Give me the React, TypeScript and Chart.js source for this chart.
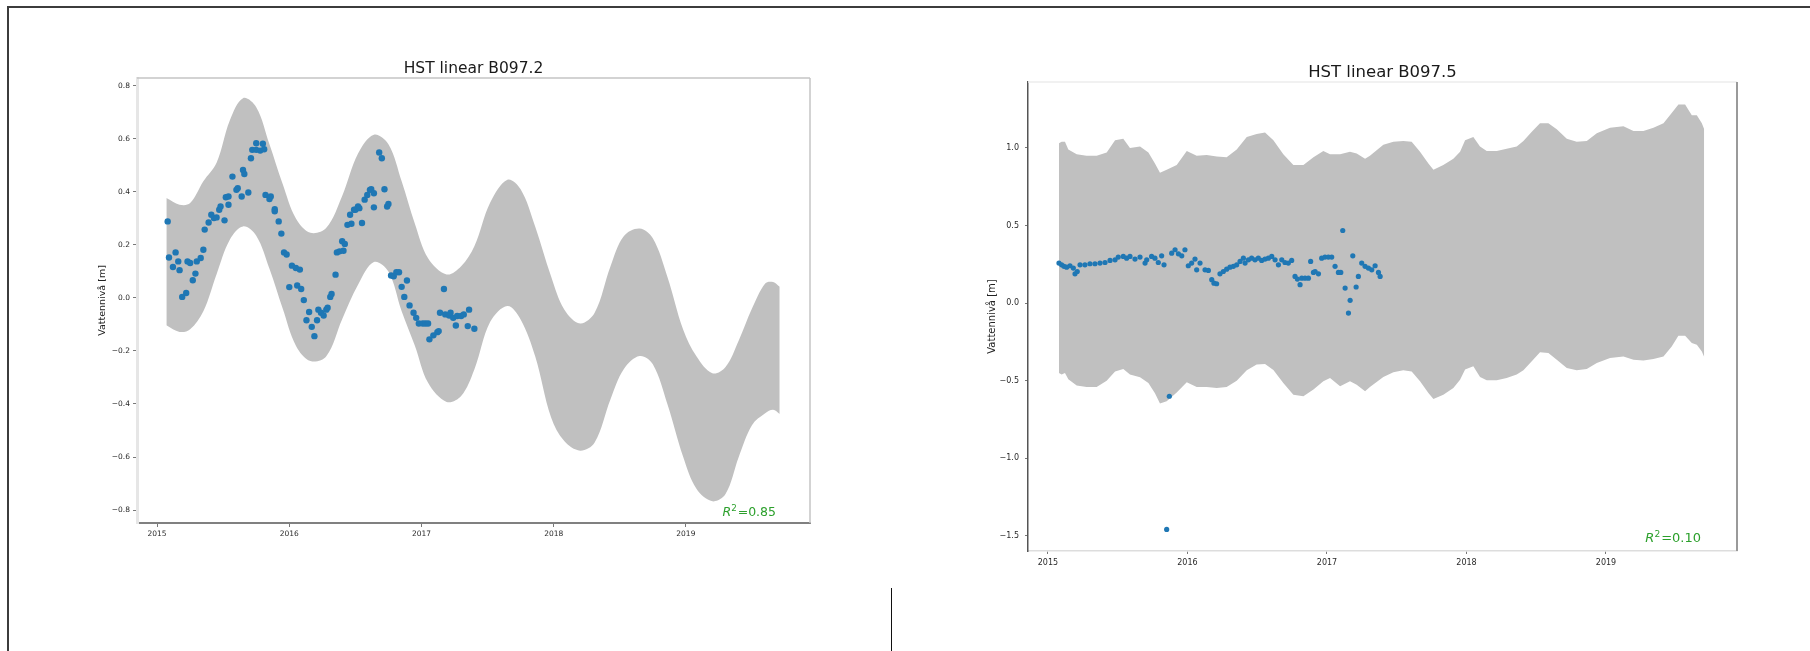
import React, { useEffect, useRef } from 'react';
import { Chart, registerables } from 'chart.js';

Chart.register(...registerables);

// ---------- shared ----------
const yearTicks = [2015, 2016, 2017, 2018, 2019];
const yLabel = 'Vattennivå [m]';

// ---------- left panel: HST linear B097.2 ----------
const leftTitle = 'HST linear B097.2';
const leftR2 = '0.85';
const leftYTicks = [-0.8, -0.6, -0.4, -0.2, 0, 0.2, 0.4, 0.6, 0.8];
const leftXRange = [2014.848, 2019.939];
const leftYRange = [-0.849, 0.83];

const leftBandYears = [
  2015.07, 2015.17, 2015.25, 2015.35, 2015.45, 2015.55, 2015.65, 2015.75, 2015.85, 2015.95,
  2016.05, 2016.16, 2016.28, 2016.40, 2016.52, 2016.64, 2016.75, 2016.85, 2016.95, 2017.05,
  2017.19, 2017.30, 2017.40, 2017.52, 2017.65, 2017.75, 2017.86, 2017.98, 2018.08, 2018.20,
  2018.31, 2018.43, 2018.53, 2018.65, 2018.75, 2018.86, 2018.98, 2019.08, 2019.20, 2019.30,
  2019.40, 2019.50, 2019.60, 2019.66, 2019.71,
];
const leftUpper = [
  0.377, 0.352, 0.358, 0.44, 0.51, 0.67, 0.754, 0.72, 0.58, 0.43,
  0.30, 0.246, 0.265, 0.385, 0.545, 0.616, 0.58, 0.44, 0.28, 0.15,
  0.089, 0.12, 0.195, 0.36, 0.446, 0.41, 0.27, 0.082, -0.043, -0.096,
  -0.056, 0.12, 0.233, 0.262, 0.225, 0.08, -0.12, -0.22, -0.284, -0.26,
  -0.16, -0.04, 0.055, 0.06, 0.042,
];
const leftLower = [
  -0.103, -0.128, -0.118, -0.05, 0.09, 0.22, 0.27, 0.235, 0.11, -0.04,
  -0.18, -0.238, -0.22, -0.08, 0.05, 0.136, 0.10, -0.05, -0.18, -0.32,
  -0.392, -0.37, -0.27, -0.09, -0.03, -0.081, -0.22, -0.45, -0.54, -0.576,
  -0.545, -0.382, -0.269, -0.219, -0.25, -0.40, -0.60, -0.72, -0.767, -0.74,
  -0.60, -0.48, -0.435, -0.422, -0.438,
];
const leftObsYears = [
  2015.08, 2015.09, 2015.12, 2015.14, 2015.16, 2015.17, 2015.19, 2015.22, 2015.23, 2015.25,
  2015.27, 2015.29, 2015.30, 2015.33, 2015.35, 2015.36, 2015.39, 2015.41, 2015.43, 2015.45,
  2015.47, 2015.48, 2015.51, 2015.52, 2015.54, 2015.54, 2015.57, 2015.60, 2015.61, 2015.64,
  2015.65, 2015.66, 2015.69, 2015.71, 2015.72, 2015.75, 2015.75, 2015.78, 2015.80, 2015.81,
  2015.82, 2015.85, 2015.86, 2015.89, 2015.89, 2015.92, 2015.94, 2015.96, 2015.98, 2016.00,
  2016.02, 2016.05, 2016.06, 2016.08, 2016.09, 2016.11, 2016.13, 2016.15, 2016.17, 2016.19,
  2016.21, 2016.22, 2016.24, 2016.26, 2016.28, 2016.29, 2016.31, 2016.32, 2016.35, 2016.36,
  2016.38, 2016.40, 2016.41, 2016.42, 2016.44, 2016.46, 2016.47, 2016.49, 2016.50, 2016.52,
  2016.53, 2016.55, 2016.57, 2016.59, 2016.61, 2016.62, 2016.64, 2016.64, 2016.68, 2016.70,
  2016.72, 2016.74, 2016.75, 2016.77, 2016.79, 2016.81, 2016.83, 2016.85, 2016.87, 2016.89,
  2016.91, 2016.94, 2016.96, 2016.98, 2017.01, 2017.03, 2017.05, 2017.06, 2017.09, 2017.12,
  2017.13, 2017.14, 2017.17, 2017.18, 2017.21, 2017.22, 2017.24, 2017.26, 2017.27, 2017.30,
  2017.32, 2017.35, 2017.36, 2017.40,
];
const leftObsLevels = [
  0.289, 0.153, 0.117, 0.172, 0.138, 0.105, 0.004, 0.019, 0.138, 0.132,
  0.067, 0.092, 0.138, 0.151, 0.182, 0.258, 0.285, 0.314, 0.302, 0.304,
  0.333, 0.345, 0.293, 0.38, 0.383, 0.352, 0.458, 0.408, 0.414, 0.383,
  0.483, 0.468, 0.398, 0.527, 0.559, 0.584, 0.559, 0.556, 0.582, 0.561,
  0.389, 0.373, 0.383, 0.335, 0.327, 0.289, 0.243, 0.172, 0.164, 0.041,
  0.122, 0.113, 0.047, 0.107, 0.034, -0.008, -0.084, -0.053, -0.109, -0.144,
  -0.084, -0.044, -0.056, -0.066, -0.044, -0.037, 0.004, 0.015, 0.088, 0.172,
  0.176, 0.214, 0.178, 0.204, 0.276, 0.314, 0.28, 0.333, 0.333, 0.345,
  0.339, 0.283, 0.371, 0.389, 0.408, 0.41, 0.395, 0.342, 0.549, 0.527,
  0.41, 0.345, 0.355, 0.085, 0.082, 0.097, 0.097, 0.042, 0.004, 0.066,
  -0.028, -0.056, -0.075, -0.096, -0.096, -0.096, -0.096, -0.156, -0.141, -0.129,
  -0.125, -0.056, 0.034, -0.062, -0.066, -0.056, -0.075, -0.104, -0.068, -0.068,
  -0.062, -0.106, -0.044, -0.116,
];

// ---------- right panel: HST linear B097.5 ----------
const rightTitle = 'HST linear B097.5';
const rightR2 = '0.10';
const rightYTicks = [-1.5, -1.0, -0.5, 0, 0.5, 1.0];
const rightXRange = [2014.857, 2019.939];
const rightYRange = [-1.597, 1.425];

const rightBandYears = [
  2015.079, 2015.098, 2015.122, 2015.146, 2015.206, 2015.277, 2015.349, 2015.421, 2015.481, 2015.540,
  2015.588, 2015.660, 2015.720, 2015.767, 2015.803, 2015.851, 2015.923, 2015.995, 2016.066, 2016.138,
  2016.210, 2016.281, 2016.353, 2016.425, 2016.496, 2016.556, 2016.616, 2016.687, 2016.759, 2016.831,
  2016.903, 2016.974, 2017.022, 2017.094,
  2017.165, 2017.213, 2017.273, 2017.308, 2017.404, 2017.476, 2017.547, 2017.607, 2017.667, 2017.727,
  2017.763, 2017.834, 2017.906, 2017.954, 2017.990, 2018.049, 2018.097, 2018.145, 2018.217, 2018.288,
  2018.360, 2018.408, 2018.468, 2018.527, 2018.587, 2018.647, 2018.719, 2018.790, 2018.862, 2018.934,
  2019.029, 2019.125, 2019.197, 2019.268, 2019.340, 2019.412, 2019.471, 2019.519, 2019.567, 2019.615,
  2019.651, 2019.687, 2019.704,
];
const rightUpper = [
  1.03, 1.04, 1.04, 0.99, 0.96, 0.95, 0.95, 0.97, 1.05, 1.06,
  1.0, 1.01, 0.97, 0.90, 0.84, 0.86, 0.89, 0.98, 0.95, 0.955,
  0.945, 0.94, 0.99, 1.07, 1.09, 1.10, 1.05, 0.96, 0.89, 0.89,
  0.94, 0.98, 0.96, 0.96,
  0.976, 0.965, 0.93, 0.95, 1.02, 1.04, 1.045, 1.04, 0.976, 0.90,
  0.86, 0.89, 0.93, 0.976, 1.05, 1.07, 1.01, 0.98, 0.98, 0.995,
  1.01, 1.045, 1.105, 1.16, 1.16, 1.12, 1.06, 1.04, 1.045, 1.095,
  1.13, 1.14, 1.11, 1.11, 1.13, 1.16, 1.225, 1.28, 1.28, 1.21,
  1.21, 1.16, 1.12,
];
const rightLower = [
  -0.45, -0.46, -0.45, -0.49, -0.53, -0.54, -0.54, -0.50, -0.44, -0.425,
  -0.46, -0.478, -0.515, -0.58, -0.647, -0.632, -0.575, -0.51, -0.54, -0.54,
  -0.547, -0.54, -0.50, -0.433, -0.396, -0.392, -0.43, -0.515, -0.59, -0.60,
  -0.557, -0.503, -0.482, -0.536,
  -0.503, -0.525, -0.568, -0.54, -0.476, -0.446, -0.433, -0.44, -0.503, -0.579,
  -0.617, -0.59, -0.547, -0.493, -0.428, -0.407, -0.476, -0.497, -0.497, -0.482,
  -0.46, -0.433, -0.375, -0.317, -0.321, -0.364, -0.418, -0.433, -0.425, -0.386,
  -0.354, -0.343, -0.364, -0.369, -0.36, -0.343, -0.279, -0.21, -0.21, -0.257,
  -0.268, -0.311, -0.347,
];
const rightObsYears = [
  2015.079, 2015.098, 2015.115, 2015.134, 2015.158, 2015.182, 2015.194, 2015.210, 2015.230, 2015.265,
  2015.301, 2015.337, 2015.373, 2015.409, 2015.445, 2015.481, 2015.504, 2015.540, 2015.564, 2015.588,
  2015.624, 2015.660, 2015.696, 2015.708, 2015.743, 2015.767, 2015.791, 2015.815, 2015.832, 2015.851,
  2015.870, 2015.887, 2015.911, 2015.935, 2015.959, 2015.982, 2016.006, 2016.030, 2016.054, 2016.066,
  2016.090, 2016.126, 2016.150, 2016.174, 2016.190, 2016.209, 2016.233, 2016.257, 2016.281, 2016.305,
  2016.329, 2016.353, 2016.377, 2016.401, 2016.413, 2016.437, 2016.460, 2016.484, 2016.508, 2016.532,
  2016.556, 2016.580, 2016.604, 2016.628, 2016.652, 2016.676, 2016.699, 2016.723, 2016.747, 2016.771,
  2016.788, 2016.807, 2016.819, 2016.843, 2016.867, 2016.883, 2016.903, 2016.915, 2016.939, 2016.962,
  2016.986, 2017.010, 2017.034, 2017.058, 2017.082, 2017.099, 2017.113, 2017.130, 2017.154, 2017.166,
  2017.185, 2017.209, 2017.225, 2017.249, 2017.273, 2017.297, 2017.321, 2017.345, 2017.369, 2017.381,
];
const rightObsLevels = [
  0.258, 0.247, 0.237, 0.232, 0.241, 0.226, 0.189, 0.204, 0.247, 0.247,
  0.254, 0.254, 0.258, 0.262, 0.275, 0.279, 0.297, 0.301, 0.290, 0.301,
  0.284, 0.297, 0.258, 0.279, 0.301, 0.290, 0.262, 0.305, 0.247, -1.458,
  -0.600, 0.322, 0.344, 0.318, 0.305, 0.344, 0.241, 0.258, 0.284, 0.215,
  0.258, 0.215, 0.211, 0.151, 0.129, 0.125, 0.189, 0.204, 0.219, 0.232,
  0.237, 0.247, 0.269, 0.290, 0.258, 0.279, 0.290, 0.279, 0.290, 0.275,
  0.284, 0.290, 0.301, 0.279, 0.247, 0.279, 0.262, 0.258, 0.275, 0.172,
  0.155, 0.119, 0.161, 0.161, 0.161, 0.269, 0.198, 0.204, 0.189, 0.290,
  0.297, 0.297, 0.297, 0.237, 0.198, 0.198, 0.468, 0.097, -0.064, 0.018,
  0.305, 0.104, 0.172, 0.258, 0.237, 0.226, 0.215, 0.241, 0.198, 0.172,
];

// ---------- chart building ----------
const FONT = '"DejaVu Sans", "Liberation Sans", sans-serif';

type Panel = {
  title: string; r2: string;
  bandYears: number[]; upper: number[]; lower: number[];
  obsYears: number[]; obsLevels: number[];
  yTicks: number[]; xRange: number[]; yRange: number[];
  w: number; h: number; pad: { left: number; top: number; right: number; bottom: number };
  yAxisW: number; xAxisH: number;
  tickFont: number; yTickPad: number; xTickPad: number; tickLen: number;
  labelFont: number; titleFont: number; titleGap: number;
  r2Font: number; r2Right: number; r2Bottom: number;
  dot: number; tension: number;
  spines: { top: [string, number]; right: [string, number]; bottom: [string, number]; left: [string, number] };
};

function fmtY(v: number) {
  const s = Math.abs(v).toFixed(1);
  return v < -1e-9 ? '\u2212' + s : s;
}

function makeConfig(p: Panel): any {
  const obs = p.obsYears.map((x, i) => ({ x, y: p.obsLevels[i] }));
  const up = p.bandYears.map((x, i) => ({ x, y: p.upper[i] }));
  const lo = p.bandYears.map((x, i) => ({ x, y: p.lower[i] }));
  const decor = {
    id: 'decor',
    afterDraw(chart: any) {
      const { ctx, chartArea: a } = chart;
      ctx.save();
      // top & right spines
      ctx.strokeStyle = p.spines.top[0];
      ctx.lineWidth = p.spines.top[1];
      ctx.beginPath();
      ctx.moveTo(a.left, a.top);
      ctx.lineTo(a.right, a.top);
      ctx.stroke();
      ctx.strokeStyle = p.spines.right[0];
      ctx.lineWidth = p.spines.right[1];
      ctx.beginPath();
      ctx.moveTo(a.right, a.top);
      ctx.lineTo(a.right, a.bottom);
      ctx.stroke();
      // title
      ctx.fillStyle = '#1a1a1a';
      ctx.font = `${p.titleFont}px ${FONT}`;
      ctx.textAlign = 'center';
      ctx.textBaseline = 'alphabetic';
      ctx.fillText(p.title, (a.left + a.right) / 2, a.top - p.titleGap);
      // R^2 annotation
      const f = p.r2Font;
      const rFont = `italic ${f}px ${FONT}`;
      const sFont = `${f * 0.7}px ${FONT}`;
      const nFont = `${f}px ${FONT}`;
      const rest = '=' + p.r2;
      ctx.font = rFont; const wR = ctx.measureText('R').width;
      ctx.font = sFont; const wS = ctx.measureText('2').width;
      ctx.font = nFont; const wN = ctx.measureText(rest).width;
      const total = wR + wS + 1 + wN;
      let x = a.right - p.r2Right - total;
      const y = a.bottom - p.r2Bottom;
      ctx.fillStyle = '#2ca02c';
      ctx.textAlign = 'left';
      ctx.font = rFont; ctx.fillText('R', x, y); x += wR;
      ctx.font = sFont; ctx.fillText('2', x, y - f * 0.42); x += wS + 1;
      ctx.font = nFont; ctx.fillText(rest, x, y);
      ctx.restore();
    },
  };
  return {
    type: 'scatter',
    data: {
      datasets: [
        {
          type: 'scatter', data: obs, order: 0,
          backgroundColor: '#1f77b4', borderColor: '#1f77b4', borderWidth: 0,
          pointRadius: p.dot, pointHoverRadius: p.dot,
        },
        {
          type: 'line', data: up, order: 1, fill: '+1',
          backgroundColor: '#c0c0c0', borderColor: 'rgba(0,0,0,0)', borderWidth: 0,
          pointRadius: 0, tension: p.tension,
        },
        {
          type: 'line', data: lo, order: 2, fill: false,
          backgroundColor: '#c0c0c0', borderColor: 'rgba(0,0,0,0)', borderWidth: 0,
          pointRadius: 0, tension: p.tension,
        },
      ],
    },
    options: {
      responsive: false,
      animation: false,
      devicePixelRatio: 1,
      layout: { padding: p.pad },
      plugins: { legend: { display: false }, tooltip: { enabled: false }, title: { display: false } },
      scales: {
        x: {
          type: 'linear', min: p.xRange[0], max: p.xRange[1],
          afterFit: (s: any) => { s.height = p.xAxisH; },
          afterBuildTicks: (s: any) => { s.ticks = yearTicks.map((v) => ({ value: v })); },
          ticks: {
            callback: (v: any) => String(Math.round(Number(v))),
            font: { family: FONT, size: p.tickFont }, color: '#2a2a2a',
            padding: p.xTickPad, maxRotation: 0, autoSkip: false, includeBounds: false,
          },
          grid: { drawOnChartArea: false, drawTicks: true, tickLength: p.tickLen, color: '#555', tickColor: '#555', lineWidth: 0.8 },
          border: { display: true, color: p.spines.bottom[0], width: p.spines.bottom[1] },
        },
        y: {
          type: 'linear', min: p.yRange[0], max: p.yRange[1],
          afterFit: (s: any) => { s.width = p.yAxisW; },
          afterBuildTicks: (s: any) => { s.ticks = p.yTicks.map((v) => ({ value: v })); },
          ticks: {
            callback: (v: any) => fmtY(Number(v)),
            font: { family: FONT, size: p.tickFont }, color: '#2a2a2a',
            padding: p.yTickPad, autoSkip: false, includeBounds: false,
          },
          grid: { drawOnChartArea: false, drawTicks: true, tickLength: p.tickLen, color: '#555', tickColor: '#555', lineWidth: 0.8 },
          border: { display: true, color: p.spines.left[0], width: p.spines.left[1] },
          title: {
            display: true, text: yLabel, color: '#222',
            font: { family: FONT, size: p.labelFont }, padding: { top: 0, bottom: 0 },
          },
        },
      },
    },
    plugins: [decor],
  };
}

const leftPanel: Panel = {
  title: leftTitle, r2: leftR2,
  bandYears: leftBandYears, upper: leftUpper, lower: leftLower,
  obsYears: leftObsYears, obsLevels: leftObsLevels,
  yTicks: leftYTicks, xRange: leftXRange, yRange: leftYRange,
  w: 800, h: 520, pad: { left: 37, top: 38, right: 50, bottom: 7 },
  yAxisW: 40, xAxisH: 30,
  tickFont: 7.5, yTickPad: 3, xTickPad: 3, tickLen: 4,
  labelFont: 9.5, titleFont: 15.5, titleGap: 5,
  r2Font: 12.5, r2Right: 34, r2Bottom: 7,
  dot: 3.2, tension: 0.35,
  spines: { top: ['#c4c4c4', 1.5], right: ['#c4c4c4', 1.5], bottom: ['#808080', 2], left: ['#e6e6e6', 3] },
};

const rightPanel: Panel = {
  title: rightTitle, r2: rightR2,
  bandYears: rightBandYears, upper: rightUpper, lower: rightLower,
  obsYears: rightObsYears, obsLevels: rightObsLevels,
  yTicks: rightYTicks, xRange: rightXRange, yRange: rightYRange,
  w: 820, h: 560, pad: { left: 26, top: 42, right: 43, bottom: 19 },
  yAxisW: 42, xAxisH: 30,
  tickFont: 8, yTickPad: 6, xTickPad: 4, tickLen: 3,
  labelFont: 10, titleFont: 16.5, titleGap: 5,
  r2Font: 13, r2Right: 36, r2Bottom: 9,
  dot: 2.6, tension: 0,
  spines: { top: ['#ececec', 1.5], right: ['#9a9a9a', 2], bottom: ['#dddddd', 1.5], left: ['#555555', 1.5] },
};

function ChartPanel({ panel, left, top }: { panel: Panel; left: number; top: number }) {
  const ref = useRef<HTMLCanvasElement | null>(null);
  useEffect(() => {
    if (!ref.current) return;
    const chart = new Chart(ref.current, makeConfig(panel));
    return () => chart.destroy();
  }, [panel]);
  return (
    <div style={{ position: 'absolute', left, top, width: panel.w, height: panel.h }}>
      <canvas ref={ref} width={panel.w} height={panel.h} style={{ display: 'block', width: panel.w, height: panel.h }} />
    </div>
  );
}

export default function App() {
  return (
    <div style={{ position: 'absolute', left: 0, top: 0, width: 1810, height: 651, overflow: 'hidden', background: '#fff' }}>
      <div style={{ position: 'absolute', left: 7, top: 6, width: 1803, height: 2, background: '#3c3c3c' }} />
      <div style={{ position: 'absolute', left: 7, top: 6, width: 2, height: 645, background: '#3c3c3c' }} />
      <div style={{ position: 'absolute', left: 891, top: 588, width: 1, height: 63, background: '#111' }} />
      <ChartPanel panel={leftPanel} left={60} top={40} />
      <ChartPanel panel={rightPanel} left={960} top={40} />
    </div>
  );
}
